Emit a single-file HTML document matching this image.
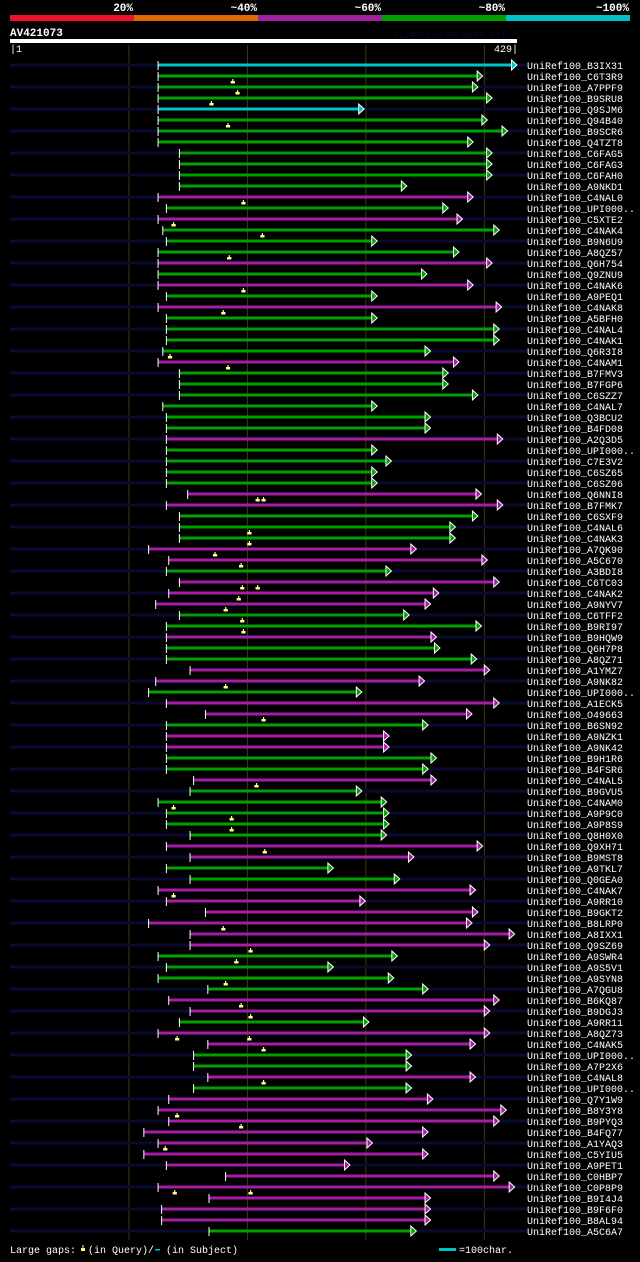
<!DOCTYPE html>
<html><head><meta charset="utf-8">
<style>
html,body{margin:0;padding:0;background:#000;}
body{width:640px;height:1257px;overflow:hidden;font-family:"Liberation Mono","DejaVu Sans Mono",monospace;}
svg text{font-family:"Liberation Mono","DejaVu Sans Mono",monospace;}
</style></head>
<body>
<svg id="chart" width="640" height="1257" viewBox="0 0 640 1257" xmlns="http://www.w3.org/2000/svg">
<rect x="0" y="0" width="640" height="1257" fill="#000"/>
</svg>
<script>
const subjects = ["B3IX31","C6T3R9","A7PPF9","B9SRU8","Q9SJM6","Q94B40","B9SCR6","Q4TZT8","C6FAG5","C6FAG3","C6FAH0","A9NKD1","C4NAL0","UPI000..","C5XTE2","C4NAK4","B9N6U9","A8QZ57","Q6H754","Q9ZNU9","C4NAK6","A9PEQ1","C4NAK8","A5BFH0","C4NAL4","C4NAK1","Q6R3I8","C4NAM1","B7FMV3","B7FGP6","C6SZZ7","C4NAL7","Q3BCU2","B4FD08","A2Q3D5","UPI000..","C7E3V2","C6SZ65","C6SZ06","Q6NNI8","B7FMK7","C6SXF9","C4NAL6","C4NAK3","A7QK90","A5C670","A3BDI8","C6TC03","C4NAK2","A9NYV7","C6TFF2","B9RI97","B9HQW9","Q6H7P8","A8QZ71","A1YMZ7","A9NK82","UPI000..","A1ECK5","O49663","B6SN92","A9NZK1","A9NK42","B9H1R6","B4FSR6","C4NAL5","B9GVU5","C4NAM0","A9P9C0","A9P8S9","Q8H0X0","Q9XH71","B9MST8","A9TKL7","Q0GEA0","C4NAK7","A9RR10","B9GKT2","B8LRP0","A8IXX1","Q9SZ69","A9SWR4","A9S5V1","A9SYN8","A7QGU8","B6KQ87","B9DGJ3","A9RR11","A8QZ73","C4NAK5","UPI000..","A7P2X6","C4NAL8","UPI000..","Q7Y1W9","B8Y3Y8","B9PYQ3","B4FQ77","A1YAQ3","C5YIU5","A9PET1","C0HBP7","C0P8P9","B9I4J4","B9F6F0","B8AL94","A5C6A7"];
const starts = [126,126,126,126,126,126,126,126,144,144,144,144,126,133,126,130,133,126,126,126,126,133,126,133,133,133,130,126,144,144,144,130,133,133,133,133,133,133,133,151,133,144,144,144,118,135,133,144,135,124,144,133,133,133,133,153,124,118,133,166,133,133,133,133,133,156,153,126,133,133,153,133,153,133,153,126,133,166,118,153,153,126,133,126,168,135,153,144,126,168,156,156,168,156,135,126,135,114,126,114,133,183,126,169,129,129,169];
const ends = [429,400,396,408,300,404,421,392,408,408,408,336,392,371,383,414,311,380,408,353,392,311,416,311,414,414,356,380,371,371,396,311,356,356,417,311,323,311,311,399,417,396,377,377,344,404,323,414,363,356,338,399,361,364,395,406,351,298,414,391,354,321,321,361,354,361,298,319,321,321,319,400,342,274,330,394,301,396,391,427,406,328,274,325,354,414,406,304,406,394,340,340,394,340,358,420,414,354,307,354,288,414,427,356,356,356,344];
const identity = ["c","g","g","g","c","g","g","g","g","g","g","g","m","g","m","g","g","g","m","g","m","g","m","g","g","g","g","m","g","g","g","g","g","g","m","g","g","g","g","m","m","g","g","g","m","m","g","m","m","m","g","g","m","g","g","m","m","g","m","m","g","m","m","g","g","m","g","g","g","g","g","m","m","g","g","m","m","m","m","m","m","g","g","g","g","m","m","g","m","m","g","g","m","g","m","m","m","m","m","m","m","m","m","m","m","m","g"];
const gapRows = [2,3,4,6,13,15,16,18,21,23,27,28,40,40,43,44,45,46,48,48,49,50,51,52,57,60,66,68,69,70,72,76,79,81,82,84,86,87,89,89,90,93,96,97,99,103,103];
const gapPos = [189,193,171,185,198,139,214,186,198,181,136,185,210,215,203,203,174,196,197,210,194,183,197,198,183,215,209,139,188,188,216,139,181,204,192,183,196,204,142,203,215,215,142,196,132,140,204];
const scaleLabels = ["20%","~40%","~60%","~80%","~100%"];
const queryLen = 429;

const svg = document.getElementById('chart');
const NS = 'http://www.w3.org/2000/svg';
const X0 = 10, X1 = 517;
function xs(c){ return X0 + (c-1)/(queryLen-1)*(X1-X0); }
function ys(i){ return 65 + i*11; }
const colors = {c:'#00c4c8', g:'#00a000', m:'#a61ea6'};
function mk(tag, attrs){ const e=document.createElementNS(NS,tag); for(const k in attrs) e.setAttribute(k,attrs[k]); svg.appendChild(e); return e; }

const segCols = ['#f0102a','#e06800','#a020a0','#00a000','#00c0c8'];
for(let i=0;i<5;i++){
  const r = mk('rect',{x:10+i*124,y:15,width:124,height:6,fill:segCols[i]});
  
  
  const t = mk('text',{x:133+i*124,y:11,fill:'#fff','font-size':'11','font-weight':'bold','text-anchor':'end'});
  t.textContent = scaleLabels[i];
  
  
}
let t = mk('text',{x:10,y:36,fill:'#fff','font-size':'11','font-weight':'bold'});
t.textContent='AV421073';


t = mk('text',{x:517,y:37,fill:'#080830','font-size':'9','text-anchor':'end'});
t.textContent='AlignView.pm Beta rel.7';


let r = mk('rect',{x:10,y:39,width:507,height:4,fill:'#fff'});


t = mk('text',{x:10,y:52,fill:'#fff','font-size':'10'});
t.textContent='|1';


t = mk('text',{x:518,y:52,fill:'#fff','font-size':'10','text-anchor':'end'});
t.textContent='429|';



[101,201,301,401].forEach(c=>{
  const l = mk('line',{x1:xs(c)+0.5,x2:xs(c)+0.5,y1:45,y2:1240,stroke:'#3a3a12','stroke-width':1});
  
  
});

for(let i=0;i<subjects.length;i++){
  const y = ys(i);
  if(i%2===0){
    const bg = mk('rect',{x:10,y:y-1.5,width:517,height:3,fill:'#0a0a32'});
    
    
  }
  const x1 = xs(starts[i]), x2 = xs(ends[i]);
  const col = colors[identity[i]];
  const bar = mk('rect',{x:x1,y:y-1.5,width:Math.max(0,x2-x1-4),height:3,fill:col});
  
  
  const tick = mk('rect',{x:x1-0.5,y:y-4,width:1,height:9,fill:'#fff'});
  
  
  const tri = mk('polygon',{points:`${x2-5.5},${y-5} ${x2},${y} ${x2-5.5},${y+5}`,fill:col,stroke:'#fff','stroke-width':1});
  
  
  const lb = mk('text',{x:527,y:y+4,fill:'#fff','font-size':'10'});
  lb.textContent='UniRef100_'+subjects[i];
  
  
}
for(let k=0;k<gapRows.length;k++){
  const y = ys(gapRows[k]-1), x = xs(gapPos[k]);
  const g = mk('path',{d:`M${x-0.5} ${y+3}h1.2v2h1.5v2.5h-4.2v-2.5h1.5z`,fill:'#ffff90'});
  
  
}
t = mk('text',{x:10,y:1253,fill:'#fff','font-size':'10'});
t.textContent='Large gaps:';


let g = mk('path',{d:'M82.5 1245h1v3h1.5v3h-4v-3h1.5z',fill:'#ffff80'});


t = mk('text',{x:88,y:1253,fill:'#fff','font-size':'10'});
t.textContent='(in Query)/';


r = mk('rect',{x:155,y:1249,width:5,height:1.5,fill:'#00c0c8'});


t = mk('text',{x:166,y:1253,fill:'#fff','font-size':'10'});
t.textContent='(in Subject)';


r = mk('rect',{x:439,y:1248,width:17,height:3,fill:'#00c0c8'});


t = mk('text',{x:459,y:1253,fill:'#fff','font-size':'10'});
t.textContent='=100char.';


</script>
</body></html>
